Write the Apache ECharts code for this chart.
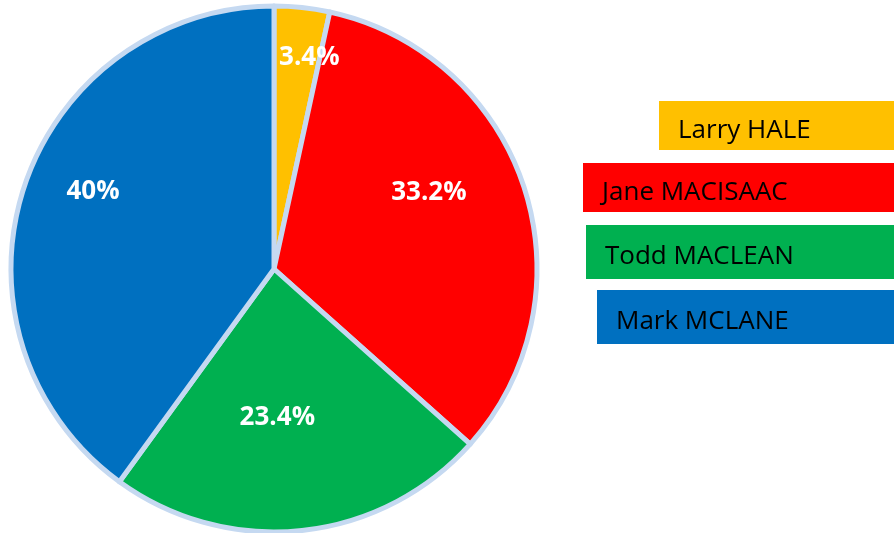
<!DOCTYPE html>
<html>
<head>
<meta charset="utf-8">
<script src="https://cdn.jsdelivr.net/npm/echarts@6/dist/echarts.min.js"></script>
<style>
  html, body { margin: 0; padding: 0; background: #fff; }
  #main { width: 894px; height: 533px; }
</style>
</head>
<body>
<div id="main"></div>
<script>
// data
const names = ['Larry HALE', 'Jane MACISAAC', 'Todd MACLEAN', 'Mark MCLANE'];
const shares = [3.4, 33.2, 23.4, 40];
const colors = ['#FFC000', '#FF0000', '#00B050', '#0070C0'];

// where each percentage label sits, relative to the default 'inside' spot
const labelOffsets = [[21, -78], [27, -35], [-11, 15], [-53, -36]];
// legend boxes: [left, top, height]
const legendBoxes = [[659, 101, 49], [583, 163, 49], [586, 225, 54], [597, 290, 54]];

let chart = echarts.init(document.getElementById('main'), null, { renderer: 'canvas' });

let graphic = [];
names.forEach(function (n, i) {
  let b = legendBoxes[i];
  graphic.push({
    type: 'rect',
    left: b[0], top: b[1],
    shape: { width: 894 - b[0], height: b[2] },
    style: { fill: colors[i] }
  });
  graphic.push({
    type: 'text',
    left: b[0] + 19, top: b[1] + b[2] / 2 - 8,
    style: {
      text: n,
      fill: '#000',
      font: '26px "Open Sans", "Noto Sans", sans-serif'
    }
  });
});

let option = {
  animation: false,
  graphic: graphic,
  series: [{
    type: 'pie',
    center: [274, 269],
    radius: 263,
    startAngle: 90,
    clockwise: true,
    data: names.map(function (n, i) {
      return {
        name: n,
        value: shares[i],
        itemStyle: { color: colors[i] },
        label: { offset: labelOffsets[i] }
      };
    }),
    itemStyle: {
      borderColor: '#C5D9F1',
      borderWidth: 5
    },
    label: {
      show: true,
      position: 'inside',
      color: '#fff',
      fontSize: 26,
      fontWeight: 'bold',
      fontFamily: '"Open Sans", "Noto Sans", sans-serif',
      formatter: function (p) { return p.value + '%'; }
    },
    labelLine: { show: false },
    emphasis: { disabled: true }
  }]
};

chart.setOption(option);
</script>
</body>
</html>
